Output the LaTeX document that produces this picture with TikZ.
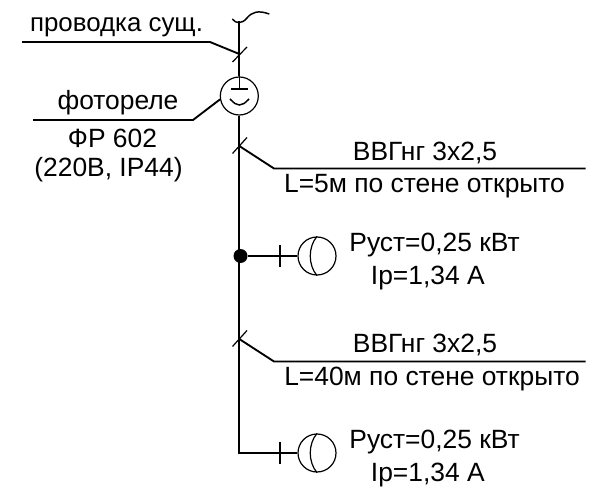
\documentclass[tikz,border=0pt]{standalone}
\usepackage{fontspec}
\setmainfont{Liberation Sans}
\begin{document}
\begin{tikzpicture}[x=0.75pt,y=-0.75pt,line width=1.4pt]
  \tikzstyle{lbl}=[inner sep=0pt,font=\fontsize{19.8}{24}\selectfont,anchor=base]
  \tikzstyle{lbll}=[inner sep=0pt,font=\fontsize{19.8}{24}\selectfont,anchor=base west]
  \tikzstyle{ring}=[circle,draw,inner sep=0pt,minimum size=28.5pt,line width=0.9pt]
  \tikzstyle{thin}=[line width=0.9pt]
  \useasboundingbox (0,0) rectangle (607,488);
  % main line
  \coordinate (top) at (239.3,21);
  \coordinate (bot) at (239.3,453);
  \node[ring] at (239.3,96) (relay) {};
  \node[ring] at (317,256) (lamp1) {};
  \node[ring] at (317,453) (lamp2) {};
  \draw (top) -- (relay.north);
  \draw (relay.south) -- (bot) -- (lamp2.west);
  \draw (top) ++(-7,-2) coordinate (w0) (top) ++(30,-7) coordinate (w1);
  \draw[line width=1.1pt] (w0) .. controls (236,24) and (242,24) .. (247,18)
    .. controls (252,12) and (258,10) .. (w1);
  % cables on the left
  \coordinate (a0) at (22,42);
  \coordinate (a1) at (210,42);
  \coordinate (a2) at (239.3,54);
  \draw (a0) -- (a1) -- (a2);
  \coordinate (b0) at (33,120);
  \coordinate (b1) at (193,120);
  \draw (b0) -- (b1) -- (relay.190);
  % inside the relay
  \coordinate (c0) at (231,89);
  \coordinate (c1) at (248,89);
  \coordinate (c2) at (230,99);
  \coordinate (c3) at (249,99);
  \coordinate (c4) at (239.3,105);
  \draw[line width=1.1pt] (relay.north) -- (239.3,89);
  \draw[line width=1.1pt] (c0) -- (c1);
  \draw[line width=1.1pt] (c2) .. controls (234,103) and (236,105) .. (c4)
    .. controls (243,105) and (245,103) .. (c3);
  % branches on the right
  \foreach \n/\y in {p/146,q/339}{
    \coordinate (\n0) at (239.3,\y);
    \coordinate (\n1) at (274,\y+22.5);
    \coordinate (\n2) at (585.5,\y+22.5);
    \coordinate (\n3) at (232.5,\y+7.5);
    \coordinate (\n4) at (247,\y-8.5);
    \draw (\n0) -- (\n1) -- (\n2);
    \draw[thin] (\n3) -- (\n4);
  }
  \coordinate (a3) at (232.5,62);
  \coordinate (a4) at (247,47);
  \draw[thin] (a3) -- (a4);
  % lamps
  \node[circle,fill,inner sep=0pt,minimum size=10.5pt] at (240.5,256) (dot) {};
  \draw[thin] (dot) -- (lamp1.west);
  \foreach \l/\y in {lamp1/256,lamp2/453}{
    \coordinate (\l t) at (280,\y-11);
    \coordinate (\l b) at (280,\y+11);
    \draw[thin] (\l t) -- (\l b);
    \draw[thin] (\l.north) .. controls (308,\y-9) and (308,\y+9) .. (\l.south);
  }
  % labels
  \node[lbl,font=\fontsize{19.4}{24}\selectfont] at (116.5,32) (t1) {проводка сущ.};
  \node[lbl] at (118,110) (t2) {фотореле};
  \node[lbl] at (112.5,148) (t3) {ФР 602};
  \node[lbl] at (108.5,177) (t4) {(220В, IP44)};
  \node[lbl] at (425,161) (t5) {ВВГнг 3х2,5};
  \node[lbl] at (424.5,192.5) (t6) {L=5м по стене открыто};
  \node[lbl] at (425,353) (t7) {ВВГнг 3х2,5};
  \node[lbl] at (432,385) (t8) {L=40м по стене открыто};
  \node[lbll] at (348.5,252) (t9) {Руст=0,25 кВт};
  \node[lbll] at (370,285) (t10) {Ip=1,34 А};
  \node[lbll] at (348.5,448.5) (t11) {Руст=0,25 кВт};
  \node[lbll] at (370,481) (t12) {Ip=1,34 А};
\end{tikzpicture}
\end{document}
